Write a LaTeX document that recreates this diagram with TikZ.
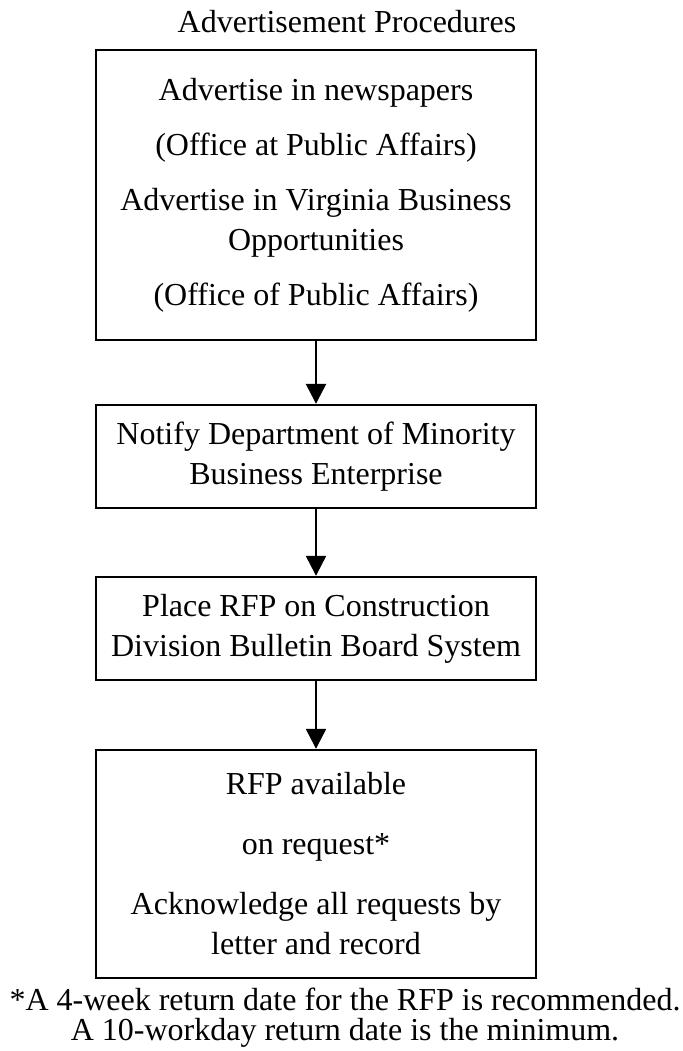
\documentclass[tikz,border=0pt]{standalone}
\usepackage{fontspec}
\setmainfont{Liberation Serif}
\usetikzlibrary{arrows.meta}

\begin{document}
\begin{tikzpicture}[x=0.5pt, y=-0.5pt, arrows={-Triangle[width=10pt,length=10pt]}, line width=1.2pt,
	every node/.style={font=\fontsize{16}{20}\selectfont},
	box/.style={draw, inner sep=0pt, align=center, minimum width=220pt}]
	\useasboundingbox (0,0) rectangle (683,1051);

	\node (title) at (347,22) {Advertisement Procedures};
	\node[box, minimum height=145pt] (advert) at (316,195) {Advertise in newspapers\\[7.5pt](Office at Public Affairs)\\[7.5pt]Advertise in Virginia Business\\Opportunities\\[7.5pt](Office of Public Affairs)};
	\node[box, minimum height=51.5pt] (notify) at (316,456.5) {Notify Department of Minority\\Business Enterprise};
	\node[box, minimum height=51.5pt] (place) at (316,628.5) {Place RFP on Construction\\Division Bulletin Board System};
	\node[box, minimum height=114pt] (avail) at (316,864) {RFP available\\[10pt]on request*\\[10pt]Acknowledge all requests by\\letter and record};
	\node (note1) at (345,999) {*A 4-week return date for the RFP is recommended.};
	\node (note2) at (345,1033) {A 10-workday return date is the minimum.};

	\draw (advert) to (notify);
	\draw (notify) to (place);
	\draw (place) to (avail);
\end{tikzpicture}
\end{document}
